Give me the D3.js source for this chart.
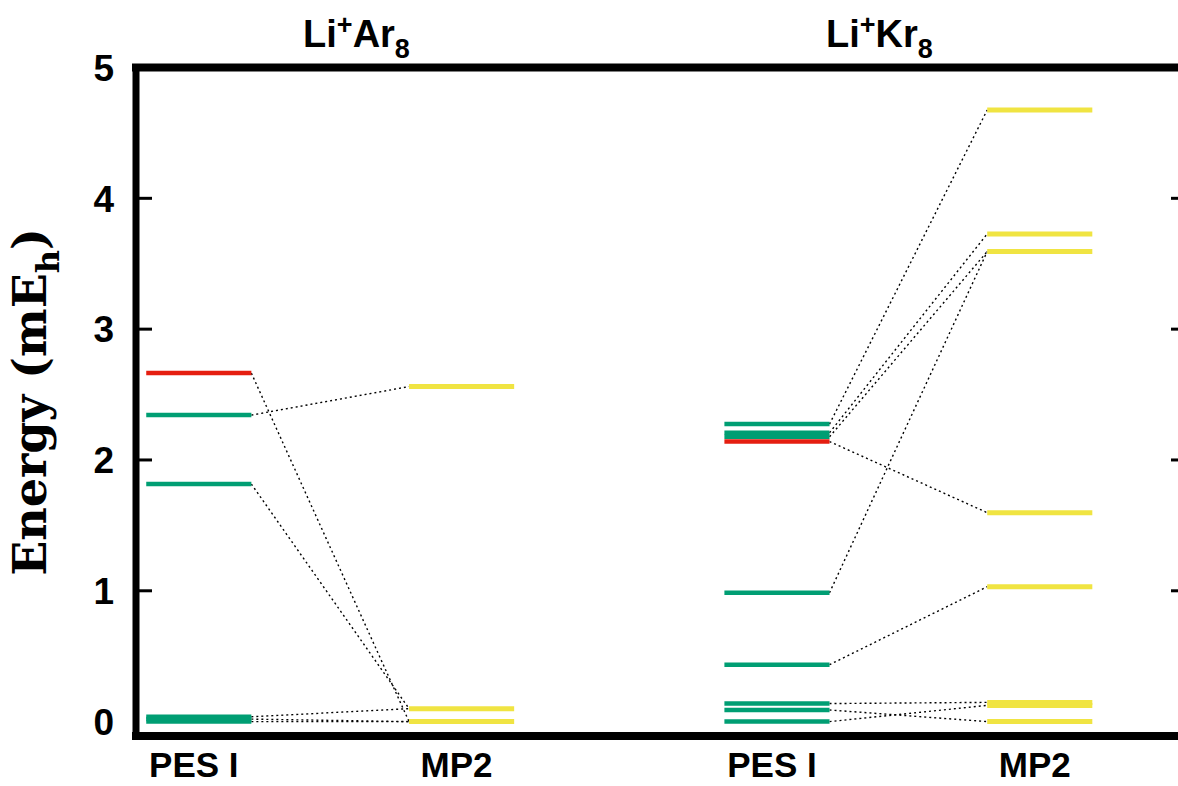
<!DOCTYPE html>
<html>
<head>
<meta charset="utf-8">
<script src="https://cdn.jsdelivr.net/npm/d3@7/dist/d3.min.js"></script>
<style>
  html, body { margin: 0; padding: 0; background: #fff; }
  svg { display: block; }
</style>
</head>
<body>
<svg id="chart" width="1178" height="786"></svg>
<script>
// Column positions (x units) and their labels
const columnPos = [1, 2, 3.2, 4.2];
const columnLabels = ["PES I", "MP2", "PES I", "MP2"];

// Energy axis ticks (mE_h)
const yTicks = [0, 1, 2, 3, 4, 5];

// Cluster titles: [base, superscript, base, subscript]
const titleParts = [["Li", "+", "Ar", "8"], ["Li", "+", "Kr", "8"]];
const titlePos = [1.6, 3.59];

// Li+Ar8 levels
const arPesGreen = [2.343, 1.816, 0.037, 0.019, 0.0];
const arPesRed = [2.664];
const arMp2 = [2.561, 0.099, 0.0];
// correlation of PES I level -> MP2 level
const arLinks = [[2.664, 0.0], [2.343, 2.561], [1.816, 0.099], [0.037, 0.099], [0.019, 0.0], [0.0, 0.0]];

// Li+Kr8 levels
const krPesGreen = [2.274, 2.208, 2.177, 0.985, 0.435, 0.138, 0.089, 0.0];
const krPesRed = [2.141];
const krMp2 = [4.675, 3.728, 3.593, 1.597, 1.031, 0.147, 0.124, 0.0];
const krLinks = [[2.274, 4.675], [2.208, 3.728], [2.177, 3.593], [2.141, 1.597], [0.985, 3.593],
                 [0.435, 1.031], [0.138, 0.147], [0.089, 0.0], [0.0, 0.124]];

const GREEN = "#009e73", RED = "#e51e10", YELLOW = "#f0e442";
const SANS = "'Liberation Sans', Arial, Helvetica, sans-serif";
const SERIF = "'DejaVu Serif', serif";

const svg = d3.select("#chart");
const x = d3.scaleLinear().domain([0.75, 4.75]).range([133.1, 1184.3]);
const y = d3.scaleLinear().domain([-0.11, 5]).range([736, 67.5]);
const halfW = 0.2;

const systems = [
  { pes: columnPos[0], mp2: columnPos[1], green: arPesGreen, red: arPesRed, mp2Levels: arMp2, links: arLinks },
  { pes: columnPos[2], mp2: columnPos[3], green: krPesGreen, red: krPesRed, mp2Levels: krMp2, links: krLinks }
];

const plot = svg.append("g");

systems.forEach(s => {
  // dotted correlation lines
  plot.append("g").selectAll("line").data(s.links).join("line")
    .attr("x1", x(s.pes + halfW)).attr("x2", x(s.mp2 - halfW))
    .attr("y1", d => y(d[0])).attr("y2", d => y(d[1]))
    .attr("stroke", "#000").attr("stroke-width", 1.4)
    .attr("stroke-dasharray", "2,3");

  const levels = (data, pos, color, w) =>
    plot.append("g").selectAll("line").data(data).join("line")
      .attr("x1", x(pos - halfW)).attr("x2", x(pos + halfW))
      .attr("y1", d => y(d)).attr("y2", d => y(d))
      .attr("stroke", color).attr("stroke-width", w);

  levels(s.green, s.pes, GREEN, 4.5);
  levels(s.red, s.pes, RED, 4.5);
  levels(s.mp2Levels, s.mp2, YELLOW, 5);
});

// frame: left, top, bottom, right
const [x0, x1] = x.range();
const [yb, yt] = y.range();
const frame = svg.append("g").attr("stroke", "#000").attr("stroke-linecap", "square");
frame.append("line").attr("x1", 136).attr("x2", 136).attr("y1", yt).attr("y2", yb).attr("stroke-width", 7);
frame.append("line").attr("x1", 136).attr("x2", x1).attr("y1", yt).attr("y2", yt).attr("stroke-width", 8);
frame.append("line").attr("x1", 136).attr("x2", x1).attr("y1", yb).attr("y2", yb).attr("stroke-width", 8);
frame.append("line").attr("x1", x1).attr("x2", x1).attr("y1", yt).attr("y2", yb).attr("stroke-width", 8);

// ticks on both sides
const tickG = svg.append("g");
tickG.selectAll("line.l").data(yTicks.filter(t => t > 0 && t < 5)).join("line")
  .attr("class", "l").attr("x1", 139).attr("x2", 152)
  .attr("y1", d => y(d)).attr("y2", d => y(d))
  .attr("stroke", "#000").attr("stroke-width", 3);
tickG.selectAll("line.r").data(yTicks.filter(t => t > 0 && t < 5)).join("line")
  .attr("class", "r").attr("x1", 1171).attr("x2", x1)
  .attr("y1", d => y(d)).attr("y2", d => y(d))
  .attr("stroke", "#000").attr("stroke-width", 3);

// tick labels
svg.append("g").selectAll("text").data(yTicks).join("text")
  .attr("x", 114).attr("y", d => y(d)).attr("dy", "0.36em")
  .attr("text-anchor", "end")
  .attr("font-family", SANS).attr("font-weight", "bold").attr("font-size", 37)
  .text(d => d);

// column labels
svg.append("g").selectAll("text").data(columnPos).join("text")
  .attr("x", d => x(d) - 5).attr("y", 777)
  .attr("text-anchor", "middle")
  .attr("font-family", SANS).attr("font-weight", "bold").attr("font-size", 35)
  .text((d, i) => columnLabels[i]);

// cluster titles
titleParts.forEach((p, i) => {
  const t = svg.append("text")
    .attr("x", x(titlePos[i])).attr("y", 47)
    .attr("text-anchor", "middle")
    .attr("font-family", SANS).attr("font-weight", "bold").attr("font-size", 38);
  t.append("tspan").text(p[0]);
  t.append("tspan").attr("font-size", 27).attr("dy", -13).text(p[1]);
  t.append("tspan").attr("dy", 13).text(p[2]);
  t.append("tspan").attr("font-size", 27).attr("dy", 11).text(p[3]);
});

// energy axis label
const yl = svg.append("text")
  .attr("transform", "translate(46,402) rotate(-90)")
  .attr("text-anchor", "middle")
  .attr("font-family", SERIF).attr("font-weight", "bold").attr("font-size", 46);
yl.append("tspan").text("Energy (mE");
yl.append("tspan").attr("font-size", 32).attr("dy", 13).text("h");
yl.append("tspan").attr("dy", -13).text(")");
</script>
</body>
</html>
